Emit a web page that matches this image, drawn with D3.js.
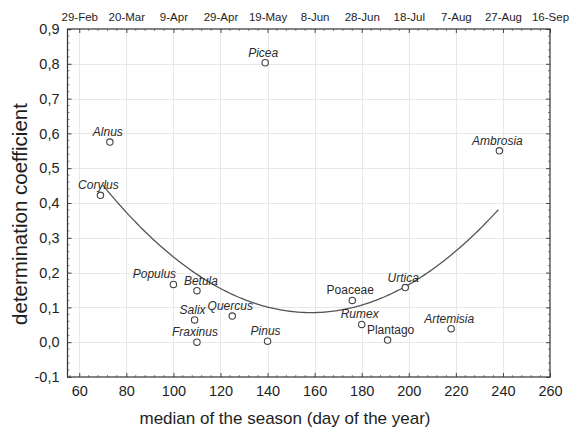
<!DOCTYPE html>
<html>
<head>
<meta charset="utf-8">
<script src="https://cdn.jsdelivr.net/npm/d3@7"></script>
<style>
  html, body { margin: 0; padding: 0; background: #fff; }
  svg { display: block; font-family: "Liberation Sans", Arial, sans-serif; }
</style>
</head>
<body>
<svg id="chart" width="572" height="429"></svg>
<script>
// Pollen taxa: median of the season (day of year) vs. determination coefficient
const species = ["Picea", "Alnus", "Corylus", "Populus", "Betula", "Salix", "Quercus",
                 "Fraxinus", "Pinus", "Poaceae", "Urtica", "Rumex", "Plantago", "Artemisia", "Ambrosia"];
const medianDay = [139, 73, 69, 100, 110, 109, 125, 110, 140, 176, 198.5, 180, 191, 218, 238.5];
const detCoef  = [0.803, 0.575, 0.422, 0.166, 0.148, 0.064, 0.075, 0.0, 0.003, 0.12, 0.157, 0.051, 0.006, 0.039, 0.55];
const uprightNames = ["Poaceae", "Plantago"];

// Second-order polynomial trend: c0 + c1*x + c2*x^2
const trendCoef = [1.2597, -0.014823, 4.676e-5];
const trendSpan = [70, 238];

// Axis ticks
const xTicks = [60, 80, 100, 120, 140, 160, 180, 200, 220, 240, 260];
const dateLabels = ["29-Feb", "20-Mar", "9-Apr", "29-Apr", "19-May", "8-Jun",
                    "28-Jun", "18-Jul", "7-Aug", "27-Aug", "16-Sep"];
const yTicks = [-0.1, 0, 0.1, 0.2, 0.3, 0.4, 0.5, 0.6, 0.7, 0.8, 0.9];

const svg = d3.select("#chart");
const plotL = 67.5, plotR = 550, plotT = 29, plotB = 377;

const x = d3.scaleLinear().domain([55, 260]).range([plotL, plotR]);
const y = d3.scaleLinear().domain([-0.1, 0.9]).range([plotB, plotT]);
const fmt = v => d3.format(".1f")(v).replace(".", ",").replace("−", "-");

// grid
const grid = svg.append("g").attr("stroke", "#e8e8e8").attr("stroke-width", 1);
grid.selectAll(".gx").data(xTicks.filter(t => x(t) < plotR - 1)).join("line")
  .attr("x1", d => Math.round(x(d)) + 0.5).attr("x2", d => Math.round(x(d)) + 0.5)
  .attr("y1", plotT).attr("y2", plotB);
grid.selectAll(".gy").data(yTicks.filter(t => y(t) > plotT + 1 && y(t) < plotB - 1)).join("line")
  .attr("y1", d => Math.round(y(d)) + 0.5).attr("y2", d => Math.round(y(d)) + 0.5)
  .attr("x1", plotL).attr("x2", plotR);

// axes with inward ticks
const bottomAxis = d3.axisBottom(x).tickValues(xTicks).tickSize(-4).tickPadding(9).tickFormat(d3.format("d"));
const gB = svg.append("g").attr("transform", `translate(0,${plotB})`).call(bottomAxis);
const topAxis = d3.axisTop(x).tickValues(xTicks).tickSize(-4).tickPadding(8.5).tickFormat((d, i) => dateLabels[i]);
const gT = svg.append("g").attr("transform", `translate(0,${plotT})`).call(topAxis);
const leftAxis = d3.axisLeft(y).tickValues(yTicks).tickSize(-4).tickPadding(8).tickFormat(fmt);
const gL = svg.append("g").attr("transform", `translate(${plotL},0)`).call(leftAxis);
const rightAxis = d3.axisRight(y).tickValues(yTicks).tickSize(-4).tickFormat("");
const gR = svg.append("g").attr("transform", `translate(${plotR},0)`).call(rightAxis);

[gB, gT, gL, gR].forEach(g => {
  g.select(".domain").remove();
  g.selectAll(".tick line").attr("stroke", "#444");
  g.selectAll("text").attr("fill", "#1e1e1e").style("font-family", "'Liberation Sans', Arial, sans-serif");
});
gB.selectAll("text").attr("font-size", 14.5);
gL.selectAll("text").attr("font-size", 14.5);
gT.selectAll("text").attr("font-size", 11.5);

// minor ticks
const minor = svg.append("g").attr("stroke", "#666").attr("stroke-width", 0.8);
const xMinor = d3.range(56, 260, 4).filter(v => !xTicks.includes(v));
const yMinor = d3.range(-0.08, 0.9, 0.02).filter(v => Math.abs(Math.round(v * 10) - v * 10) > 0.01);
minor.selectAll(".mb").data(xMinor).join("line")
  .attr("x1", d => x(d)).attr("x2", d => x(d)).attr("y1", plotB).attr("y2", plotB - 2);
minor.selectAll(".mt").data(xMinor).join("line")
  .attr("x1", d => x(d)).attr("x2", d => x(d)).attr("y1", plotT).attr("y2", plotT + 2);
minor.selectAll(".ml").data(yMinor).join("line")
  .attr("y1", d => y(d)).attr("y2", d => y(d)).attr("x1", plotL).attr("x2", plotL + 2);
minor.selectAll(".mr").data(yMinor).join("line")
  .attr("y1", d => y(d)).attr("y2", d => y(d)).attr("x1", plotR).attr("x2", plotR - 2);

// frame
svg.append("rect").attr("x", plotL).attr("y", plotT)
  .attr("width", plotR - plotL).attr("height", plotB - plotT)
  .attr("fill", "none").attr("stroke", "#333").attr("stroke-width", 1.2);

// trend curve
const trendX = d3.range(trendSpan[0], trendSpan[1] + 0.5, 1);
const trend = v => trendCoef[0] + trendCoef[1] * v + trendCoef[2] * v * v;
svg.append("path")
  .datum(trendX)
  .attr("fill", "none").attr("stroke", "#555").attr("stroke-width", 1.3)
  .attr("d", d3.line().x(d => x(d)).y(d => y(trend(d))).curve(d3.curveBasis));

// points and labels
const pts = species.map((s, i) => ({ name: s, day: medianDay[i], r: detCoef[i] }));
const labelShift = { Populus: -17, Betula: 6, Plantago: 5 };

svg.append("g").selectAll("circle").data(pts).join("circle")
  .attr("cx", d => x(d.day)).attr("cy", d => y(d.r)).attr("r", 3.2)
  .attr("fill", "#fff").attr("stroke", "#444").attr("stroke-width", 1.1);

svg.append("g").selectAll("text").data(pts).join("text")
  .attr("x", d => x(d.day) - 2 + (labelShift[d.name] || 0))
  .attr("y", d => y(d.r) - 6)
  .attr("text-anchor", "middle")
  .attr("font-size", 12)
  .attr("font-style", d => uprightNames.includes(d.name) ? "normal" : "italic")
  .attr("fill", "#2a2a2a")
  .text(d => d.name);

// axis titles
svg.append("text")
  .attr("x", 285).attr("y", 424)
  .attr("text-anchor", "middle").attr("font-size", 17).attr("fill", "#1e1e1e")
  .text("median of the season (day of the year)");
svg.append("text")
  .attr("transform", "translate(27,214) rotate(-90)")
  .attr("text-anchor", "middle").attr("font-size", 20.5).attr("fill", "#1e1e1e")
  .text("determination coefficient");
</script>
</body>
</html>
